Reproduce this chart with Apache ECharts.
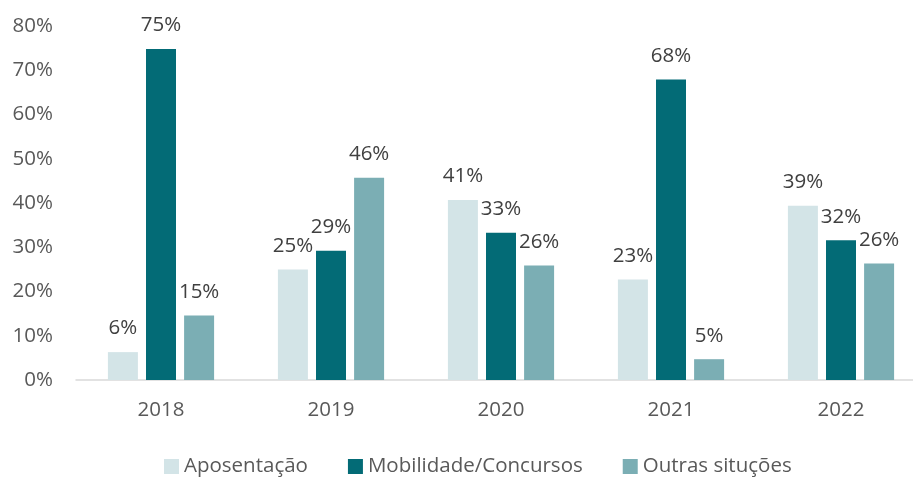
<!DOCTYPE html>
<html>
<head>
<meta charset="utf-8">
<script src="https://cdn.jsdelivr.net/npm/echarts@6/dist/echarts.min.js"></script>
<style>
  html, body { margin: 0; padding: 0; background: #fff; }
  #chart { width: 913px; height: 477px; }
</style>
</head>
<body>
<div id="chart"></div>
<script>
// (percent)
const years = ['2018', '2019', '2020', '2021', '2022'];
const aposentacao = [6.3, 25.0, 40.7, 22.7, 39.4];
const mobilidade = [74.8, 29.2, 33.3, 67.9, 31.6];
const outras = [14.6, 45.7, 25.9, 4.7, 26.3];

const seriesNames = ['Aposentação', 'Mobilidade/Concursos', 'Outras situções'];
const seriesColors = ['#D3E4E7', '#036B76', '#7BAEB4'];

const font = '"Open Sans", "Noto Sans", sans-serif';

const makeSeries = (name, data, color) => ({
  name,
  type: 'bar',
  data,
  barWidth: 30,
  barGap: '27%',
  itemStyle: { color },
  label: {
    show: true,
    position: 'top',
    distance: 13,
    color: '#404040',
    fontFamily: font,
    fontSize: 20.5,
    formatter: (p) => Math.round(p.value) + '%'
  }
});

const chart = echarts.init(document.getElementById('chart'), null, { renderer: 'canvas' });

chart.setOption({
  animation: false,
  backgroundColor: '#fff',
  grid: { left: 76, width: 850, top: 26, bottom: 97, outerBoundsMode: 'none', containLabel: false },
  legend: {
    top: 451,
    left: 159,
    itemWidth: 15,
    itemHeight: 15,
    itemGap: 40,
    icon: 'rect',
    textStyle: { color: '#595959', fontFamily: font, fontSize: 20.5 },
    data: seriesNames
  },
  xAxis: {
    type: 'category',
    data: years,
    axisTick: { show: false },
    axisLine: { lineStyle: { color: '#D9D9D9', width: 1.5 } },
    axisLabel: { color: '#595959', fontFamily: font, fontSize: 20.5, margin: 20 }
  },
  yAxis: {
    type: 'value',
    min: 0,
    max: 80,
    interval: 10,
    splitLine: { show: false },
    axisLine: { show: false },
    axisTick: { show: false },
    axisLabel: {
      color: '#595959',
      fontFamily: font,
      fontSize: 20.5,
      margin: 23,
      formatter: (v) => v + '%'
    }
  },
  series: [
    makeSeries(seriesNames[0], aposentacao, seriesColors[0]),
    makeSeries(seriesNames[1], mobilidade, seriesColors[1]),
    makeSeries(seriesNames[2], outras, seriesColors[2])
  ]
});
</script>
</body>
</html>
